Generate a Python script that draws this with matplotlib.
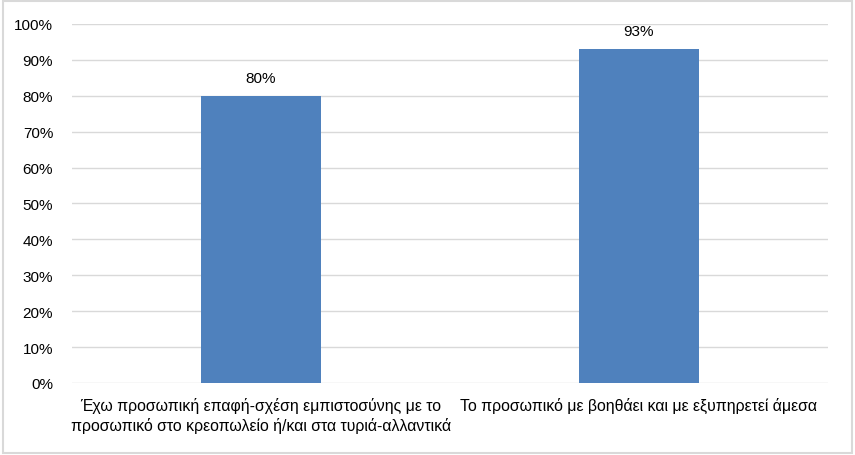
import matplotlib
matplotlib.use("Agg")
import matplotlib.pyplot as plt
from matplotlib.patches import Rectangle

# Δεδομένα
categories = ["Έχω προσωπική επαφή-σχέση εμπιστοσύνης με το\nπροσωπικό στο κρεοπωλείο ή/και στα τυριά-αλλαντικά",
              "Το προσωπικό με βοηθάει και με εξυπηρετεί άμεσα"]
values = [0.80, 0.93]
value_labels = ["80%", "93%"]
y_ticks = [i / 10 for i in range(11)]
y_tick_labels = [f"{i * 10}%" for i in range(11)]

plt.rcParams['font.family'] = ['Liberation Sans', 'DejaVu Sans']

fig = plt.figure(figsize=(8.55, 4.56), dpi=100)
ax = fig.add_axes([0.0842, 0.1579, 0.9684 - 0.0842, 0.9452 - 0.1579])

x = range(len(categories))
ax.bar(x, values, width=0.315, color='#4F81BD', zorder=3)

for xi, v, lab in zip(x, values, value_labels):
    ax.text(xi, v + 0.05, lab, ha='center', va='center', fontsize=11, color='#000000')

ax.set_xlim(-0.5, 1.5)
ax.set_ylim(0, 1)
ax.set_yticks(y_ticks)
ax.set_yticklabels(y_tick_labels, fontsize=11)
ax.set_xticks(list(x))
ax.set_xticklabels(categories, fontsize=11.4, linespacing=1.3)
for t in ax.get_xticklabels():
    t.set_multialignment('center')
ax.tick_params(axis='y', length=0, pad=13.5)
ax.tick_params(axis='x', length=0, pad=10)

ax.grid(axis='y', color='#D9D9D9', linewidth=1, zorder=0)
for s in ax.spines.values():
    s.set_visible(False)

# Cadre autour de la figure
fig.patches.append(Rectangle((0.003, 0.004), 0.994, 0.992, transform=fig.transFigure,
                             fill=False, edgecolor='#D9D9D9', linewidth=1.5))

fig.savefig("out.png", dpi=100)
